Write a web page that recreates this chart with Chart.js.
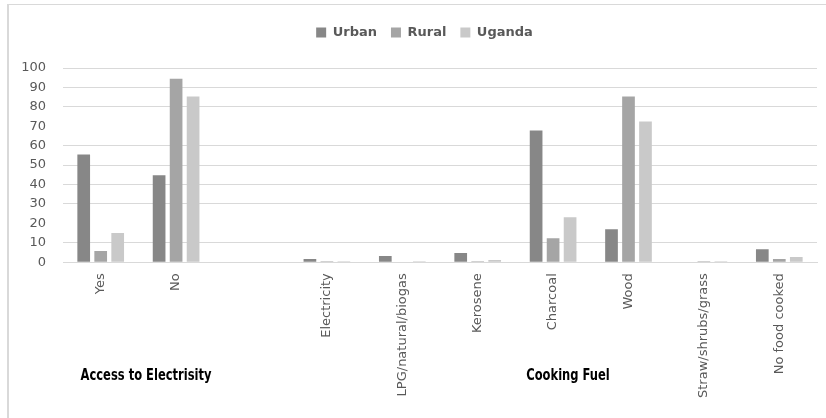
<!DOCTYPE html>
<html>
<head>
<meta charset="utf-8">
<script src="https://cdn.jsdelivr.net/npm/chart.js@4"></script>
<style>
  html, body { margin: 0; padding: 0; background: #fff; }
  #wrap { width: 826px; height: 418px; }
</style>
</head>
<body>
<div id="wrap"><canvas id="c" width="826" height="418"></canvas></div>
<script>
const categories = ['Yes', 'No', '', 'Electricity', 'LPG/natural/biogas', 'Kerosene', 'Charcoal', 'Wood', 'Straw/shrubs/grass', 'No food cooked'];
const urban  = [55.5, 44.8, null, 1.7, 3.2, 4.8, 67.8, 17.0, 0,   6.7];
const rural  = [5.8,  94.5, null, 0.5, 0,   0.5, 12.4, 85.3, 0.5, 1.7];
const uganda = [15.0, 85.3, null, 0.5, 0.5, 1.2, 23.2, 72.4, 0.5, 2.7];
const groupLabels = [
  { text: 'Access to Electrisity', x: 146 },
  { text: 'Cooking Fuel', x: 568 }
];
const yTicks = { min: 0, max: 100, step: 10 };

const framePlugin = {
  id: 'frame',
  beforeDraw(chart) {
    const ctx = chart.ctx;
    ctx.save();
    ctx.fillStyle = '#fff';
    ctx.fillRect(0, 0, chart.width, chart.height);
    ctx.fillStyle = '#d9d9d9';
    ctx.fillRect(7, 4, chart.width - 7, 1);
    ctx.fillRect(7, 4, 2, chart.height - 4);
    ctx.restore();
  }
};

const groupLabelPlugin = {
  id: 'groupLabels',
  afterDraw(chart) {
    const ctx = chart.ctx;
    ctx.save();
    ctx.font = 'bold 16px "DejaVu Sans Condensed", "DejaVu Sans", sans-serif';
    ctx.fillStyle = '#000';
    ctx.textAlign = 'center';
    ctx.textBaseline = 'middle';
    const sx = 0.8;
    ctx.scale(sx, 1);
    groupLabels.forEach(g => ctx.fillText(g.text, g.x / sx, 376));
    ctx.restore();
  }
};

const legendSpacer = {
  id: 'legendSpacer',
  beforeInit(chart) {
    const origFit = chart.legend.fit;
    chart.legend.fit = function () {
      origFit.bind(chart.legend)();
      this.height += 19;
    };
  },
  afterLayout(chart) {
    chart.legend.left += 11;
    chart.legend.right += 11;
  }
};

new Chart(document.getElementById('c'), {
  type: 'bar',
  data: {
    labels: categories,
    datasets: [
      { label: 'Urban', data: urban, backgroundColor: '#878787' },
      { label: 'Rural', data: rural, backgroundColor: '#a5a5a5' },
      { label: 'Uganda', data: uganda, backgroundColor: '#c9c9c9' }
    ]
  },
  options: {
    responsive: false,
    animation: false,
    devicePixelRatio: 1,
    layout: { padding: { left: 10, right: 9, top: 12, bottom: 17 } },
    datasets: { bar: { categoryPercentage: 0.676, barPercentage: 0.747 } },
    plugins: {
      legend: {
        position: 'top',
        labels: {
          boxWidth: 10, boxHeight: 10, padding: 14,
          color: '#595959',
          font: { family: '"DejaVu Sans", sans-serif', size: 13, weight: 'bold' }
        }
      },
      tooltip: { enabled: false }
    },
    scales: {
      x: {
        grid: { display: false },
        border: { color: '#d9d9d9' },
        ticks: {
          minRotation: 90, maxRotation: 90, autoSkip: false, padding: 3,
          color: '#595959',
          font: { family: '"DejaVu Sans", sans-serif', size: 13 }
        }
      },
      y: {
        min: yTicks.min, max: yTicks.max,
        afterFit(scale) { scale.width = 53; },
        grid: {
          drawTicks: false,
          color: ctx => (ctx.tick && (ctx.tick.value === 20 || ctx.tick.value === 70)) ? 'rgba(0,0,0,0)' : '#d9d9d9'
        },
        border: { display: false },
        ticks: {
          stepSize: yTicks.step, padding: 17,
          color: '#595959',
          font: { family: '"DejaVu Sans", sans-serif', size: 13 }
        }
      }
    }
  },
  plugins: [framePlugin, groupLabelPlugin, legendSpacer]
});
</script>
</body>
</html>
